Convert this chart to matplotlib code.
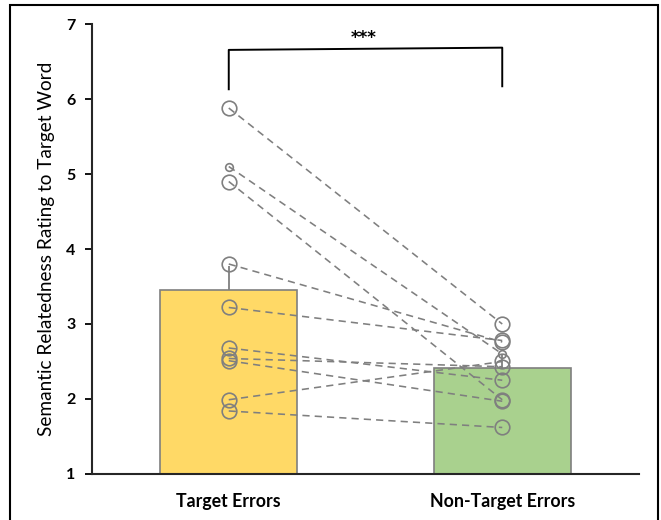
import matplotlib
matplotlib.use("Agg")
import matplotlib.pyplot as plt
from matplotlib.patches import Rectangle

plt.rcParams["font.family"] = ["Lato", "DejaVu Sans"]

categories = ["Target Errors", "Non-Target Errors"]
means = [3.45, 2.41]
errors = [0.33, 0.18]
bar_colors = ["#FFD966", "#A9D18E"]

# paired per-participant ratings (target -> non-target)
target_vals = [5.88, 5.10, 4.90, 3.80, 3.22, 2.68, 2.54, 2.51, 1.99, 1.84]
nontarget_vals = [3.00, 2.60, 1.99, 2.76, 2.78, 2.25, 2.43, 1.97, 2.50, 1.62]
marker_sizes = [10.5, 5.5, 10.5, 10.5, 10.5, 10.5, 10.5, 10.5, 10.5, 10.5]

GRAY = "#7f7f7f"

fig = plt.figure(figsize=(6.61, 5.20), dpi=100)
ax = fig.add_axes([0.1392, 0.0885, 0.8275, 0.8653])

xs = list(range(len(categories)))
ax.bar(xs, means, width=0.5, color=bar_colors, edgecolor=GRAY, linewidth=1.2, zorder=2)
ax.errorbar(xs, means, yerr=[[0, 0], errors], fmt="none", ecolor=GRAY,
            elinewidth=1.3, capsize=0, zorder=3)

for t, n, ms in zip(target_vals, nontarget_vals, marker_sizes):
    ax.plot([0, 1], [t, n], color=GRAY, linewidth=1.15, linestyle=(0, (4.5, 3.2)), zorder=4)
    ax.plot([0], [t], marker="o", markersize=ms, markerfacecolor="none",
            markeredgecolor=GRAY, markeredgewidth=1.2, linestyle="none", zorder=5)
    ax.plot([1], [n], marker="o", markersize=ms, markerfacecolor="none",
            markeredgecolor=GRAY, markeredgewidth=1.2, linestyle="none", zorder=5)

# significance bracket
ax.plot([0, 0, 1, 1], [6.13, 6.655, 6.685, 6.17], color="black", linewidth=1.4,
        clip_on=False, zorder=6)
ax.text(0.495, 6.82, "***", ha="center", va="center", fontsize=12, fontweight="bold",
        family="DejaVu Sans")

ax.set_xlim(-0.5, 1.5)
ax.set_ylim(1, 7)
ax.set_yticks(range(1, 8))
ax.set_xticks(xs)
ax.set_xticklabels(categories, fontsize=12.8, fontweight="bold")
ax.tick_params(axis="x", length=0, pad=14)
ax.tick_params(axis="y", length=5, width=1.3, labelsize=11.5, pad=7)
for lab in ax.get_yticklabels():
    lab.set_fontweight("bold")
ax.set_ylabel("Semantic Relatedness Rating to Target Word", fontsize=13.7, labelpad=8)

for side in ("top", "right"):
    ax.spines[side].set_visible(False)
for side in ("left", "bottom"):
    ax.spines[side].set_linewidth(1.5)
    ax.spines[side].set_color("#262626")

# outer frame
fig.patches.append(Rectangle((10 / 661, -0.01), 648 / 661, 1 - 5 / 520 + 0.01,
                             transform=fig.transFigure, fill=False,
                             edgecolor="black", linewidth=1.5))

fig.savefig("out.png", dpi=100)
